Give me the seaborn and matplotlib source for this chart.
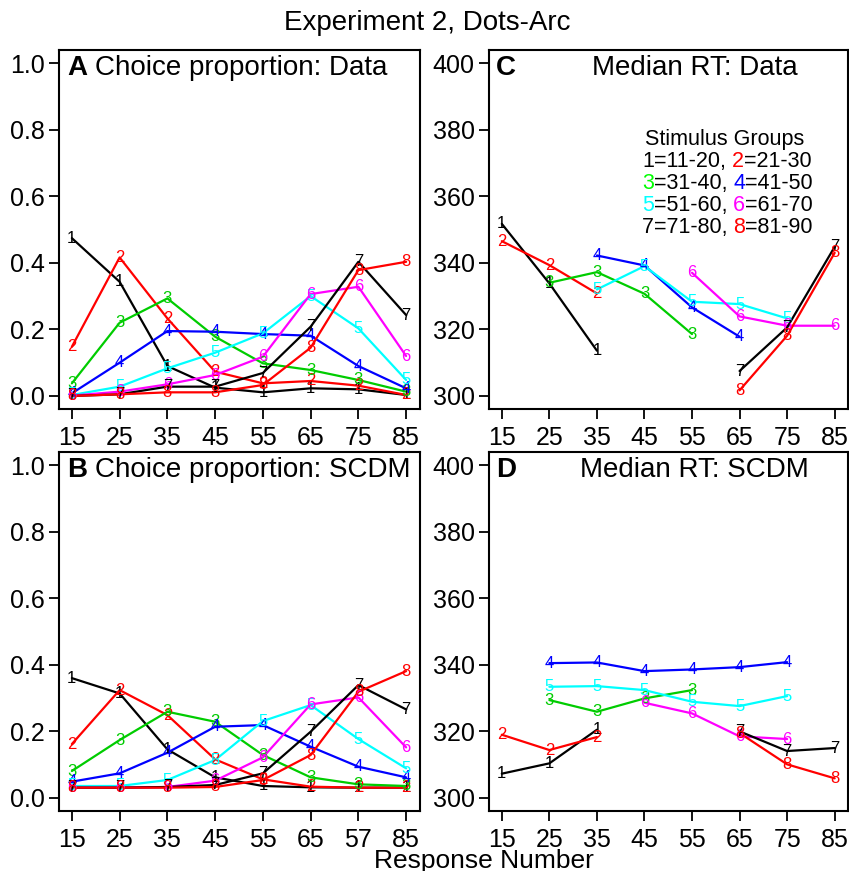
import numpy as np
import pandas as pd
import matplotlib
matplotlib.use("Agg")
import matplotlib.pyplot as plt
import seaborn as sns

nan = np.nan

# response numbers (bin centres) and tick labels
resp = [15, 25, 35, 45, 55, 65, 75, 85]
xlabels_top = ["15", "25", "35", "45", "55", "65", "75", "85"]
xlabels_b = ["15", "25", "35", "45", "55", "65", "57", "85"]
groups = ["1", "2", "3", "4", "5", "6", "7", "8"]
group_colors = ["black", "#ff0000", "#00cc00", "#0000ff",
                "#00ffff", "#ff00ff", "black", "#ff0000"]

# A: choice proportion, data
choice_data = {
    "1": [0.474, 0.343, 0.090, 0.025, 0.011, 0.023, 0.020, 0.003],
    "2": [0.148, 0.416, 0.233, 0.073, 0.038, 0.045, 0.031, 0.003],
    "3": [0.038, 0.220, 0.293, 0.178, 0.098, 0.078, 0.048, 0.013],
    "4": [0.008, 0.100, 0.195, 0.193, 0.186, 0.181, 0.090, 0.023],
    "5": [0.003, 0.028, 0.083, 0.130, 0.188, 0.300, 0.203, 0.048],
    "6": [0.001, 0.013, 0.035, 0.063, 0.118, 0.306, 0.328, 0.120],
    "7": [0.000, 0.005, 0.028, 0.028, 0.069, 0.208, 0.403, 0.243],
    "8": [0.000, 0.005, 0.011, 0.011, 0.033, 0.145, 0.378, 0.403],
}

# B: choice proportion, SCDM
choice_scdm = {
    "1": [0.360, 0.314, 0.146, 0.062, 0.036, 0.032, 0.031, 0.031],
    "2": [0.162, 0.324, 0.249, 0.116, 0.056, 0.034, 0.031, 0.031],
    "3": [0.081, 0.174, 0.259, 0.229, 0.129, 0.062, 0.041, 0.036],
    "4": [0.049, 0.074, 0.136, 0.214, 0.219, 0.154, 0.094, 0.062],
    "5": [0.036, 0.036, 0.054, 0.114, 0.231, 0.279, 0.177, 0.089],
    "6": [0.031, 0.031, 0.033, 0.052, 0.122, 0.281, 0.302, 0.152],
    "7": [0.031, 0.031, 0.033, 0.039, 0.074, 0.199, 0.339, 0.266],
    "8": [0.031, 0.031, 0.031, 0.033, 0.054, 0.129, 0.319, 0.381],
}

# C: median RT, data
rt_data = {
    "1": [351.7, 333.8, 313.6, nan, nan, nan, nan, nan],
    "2": [346.5, 339.3, 330.8, nan, nan, nan, nan, nan],
    "3": [nan, 334.0, 337.2, 330.7, 318.6, nan, nan, nan],
    "4": [nan, nan, 342.2, 339.2, 326.6, 317.8, nan, nan],
    "5": [nan, nan, 332.0, 339.0, 328.3, 327.6, 323.3, nan],
    "6": [nan, nan, nan, nan, 337.0, 323.9, 321.1, 321.1],
    "7": [nan, nan, nan, nan, nan, 307.5, 320.6, 344.8],
    "8": [nan, nan, nan, nan, nan, 301.7, 318.1, 343.0],
}

# D: median RT, SCDM
rt_scdm = {
    "1": [307.3, 310.4, 320.5, nan, nan, nan, nan, nan],
    "2": [319.0, 314.4, 318.3, nan, nan, nan, nan, nan],
    "3": [nan, 329.4, 325.9, 329.9, 332.4, nan, nan, nan],
    "4": [nan, 340.5, 340.7, 338.1, 338.6, 339.3, 340.8, nan],
    "5": [nan, 333.4, 333.6, 332.4, 328.9, 327.6, 330.6, nan],
    "6": [nan, nan, nan, 328.6, 325.4, 318.5, 317.7, nan],
    "7": [nan, nan, nan, nan, nan, 320.0, 314.1, 315.0],
    "8": [nan, nan, nan, nan, nan, 319.5, 310.1, 305.9],
}

sns.set_style("ticks")
plt.rcParams["font.family"] = ["Liberation Sans", "DejaVu Sans"]
plt.rcParams["text.color"] = "black"

W, H = 849, 871
fig = plt.figure(figsize=(W / 100, H / 100), dpi=100)


def px_axes(x0, y0, x1, y1):
    return fig.add_axes([x0 / W, 1 - y1 / H, (x1 - x0) / W, (y1 - y0) / H])


def draw_panel(ax, series, ylim, yticks, yfmt, xlabels):
    long = []
    for g in groups:
        for xv, yv in zip(resp, series[g]):
            long.append({"resp": xv, "val": yv, "group": g})
    df = pd.DataFrame(long).dropna()
    sns.lineplot(data=df, x="resp", y="val", hue="group", hue_order=groups,
                 palette=dict(zip(groups, group_colors)), units="group",
                 estimator=None, sort=True, linewidth=1.6, legend=False, ax=ax)
    for g, col in zip(groups, group_colors):
        for xv, yv in zip(resp, series[g]):
            if not np.isnan(yv):
                ax.text(xv, yv, g, color=col, fontsize=12,
                        ha="center", va="center")
    ax.set_xlim(12.2, 87.8)
    ax.set_ylim(*ylim)
    ax.set_xticks(resp)
    ax.set_xticklabels(xlabels)
    ax.set_yticks(yticks)
    ax.set_yticklabels([yfmt.format(t) for t in yticks])
    ax.set_xlabel("")
    ax.set_ylabel("")
    for s in ax.spines.values():
        s.set_visible(True)
        s.set_linewidth(1.5)
        s.set_color("black")
    ax.tick_params(direction="out", length=7, width=1.3, labelsize=18,
                   colors="black", pad=3)
    ax.tick_params(axis="x", pad=5)


axA = px_axes(58.5, 49.7, 419.5, 409.3)
axC = px_axes(488.5, 49.7, 848.0, 409.3)
axB = px_axes(58.5, 451.7, 419.5, 811.3)
axD = px_axes(488.5, 451.7, 848.0, 811.3)

ptick = [0.0, 0.2, 0.4, 0.6, 0.8, 1.0]
rtick = [300, 320, 340, 360, 380, 400]
draw_panel(axA, choice_data, (-0.04, 1.04), ptick, "{:.1f}", xlabels_top)
draw_panel(axB, choice_scdm, (-0.04, 1.04), ptick, "{:.1f}", xlabels_b)
draw_panel(axC, rt_data, (296, 404), rtick, "{:d}", xlabels_top)
draw_panel(axD, rt_scdm, (296, 404), rtick, "{:d}", xlabels_top)


def fx(px):
    return px / W


def fy(py):
    return 1 - py / H


renderer = fig.canvas.get_renderer()


def chain(pieces, x, y, size):
    """write pieces (text, colour, bold, gap before) one after another"""
    cur = x
    for txt, col, bold, gap in pieces:
        cur += gap
        t = fig.text(fx(cur), fy(y), txt, color=col, fontsize=size,
                     fontweight="bold" if bold else "normal",
                     ha="left", va="baseline")
        cur = t.get_window_extent(renderer).x1


# panel titles
chain([("A", "black", True, 0), ("Choice proportion: Data", "black", False, 7.7)], 67, 75, 20)
chain([("B", "black", True, 0), ("Choice proportion: SCDM", "black", False, 7.7)], 67, 477, 20)
fig.text(fx(496), fy(75), "C", fontsize=20, fontweight="bold", va="baseline")
fig.text(fx(695), fy(75), "Median RT: Data", fontsize=20, ha="center", va="baseline")
fig.text(fx(496), fy(477), "D", fontsize=20, fontweight="bold", va="baseline")
fig.text(fx(694), fy(477), "Median RT: SCDM", fontsize=20, ha="center", va="baseline")

# stimulus group key
fig.text(fx(725), fy(145), "Stimulus Groups", fontsize=15.5, ha="center", va="baseline")
key_lines = [
    [("1", "black"), ("=11-20,", "black"), ("2", "#ff0000"), ("=21-30", "black")],
    [("3", "#00ff00"), ("=31-40,", "black"), ("4", "#0000ff"), ("=41-50", "black")],
    [("5", "#00ffff"), ("=51-60,", "black"), ("6", "#ff00ff"), ("=61-70", "black")],
    [("7", "black"), ("=71-80,", "black"), ("8", "#ff0000"), ("=81-90", "black")],
]
for i, line in enumerate(key_lines):
    gaps = [0, 0, 6, 0]
    chain([(t, c, False, g) for (t, c), g in zip(line, gaps)], 642, 167 + 22 * i, 15.5)

fig.text(0.5035, fy(30), "Experiment 2, Dots-Arc", fontsize=20,
         ha="center", va="baseline")
fig.text(fx(484), fy(868), "Response Number", fontsize=19,
         ha="center", va="baseline")

fig.savefig("out.png", dpi=100)
